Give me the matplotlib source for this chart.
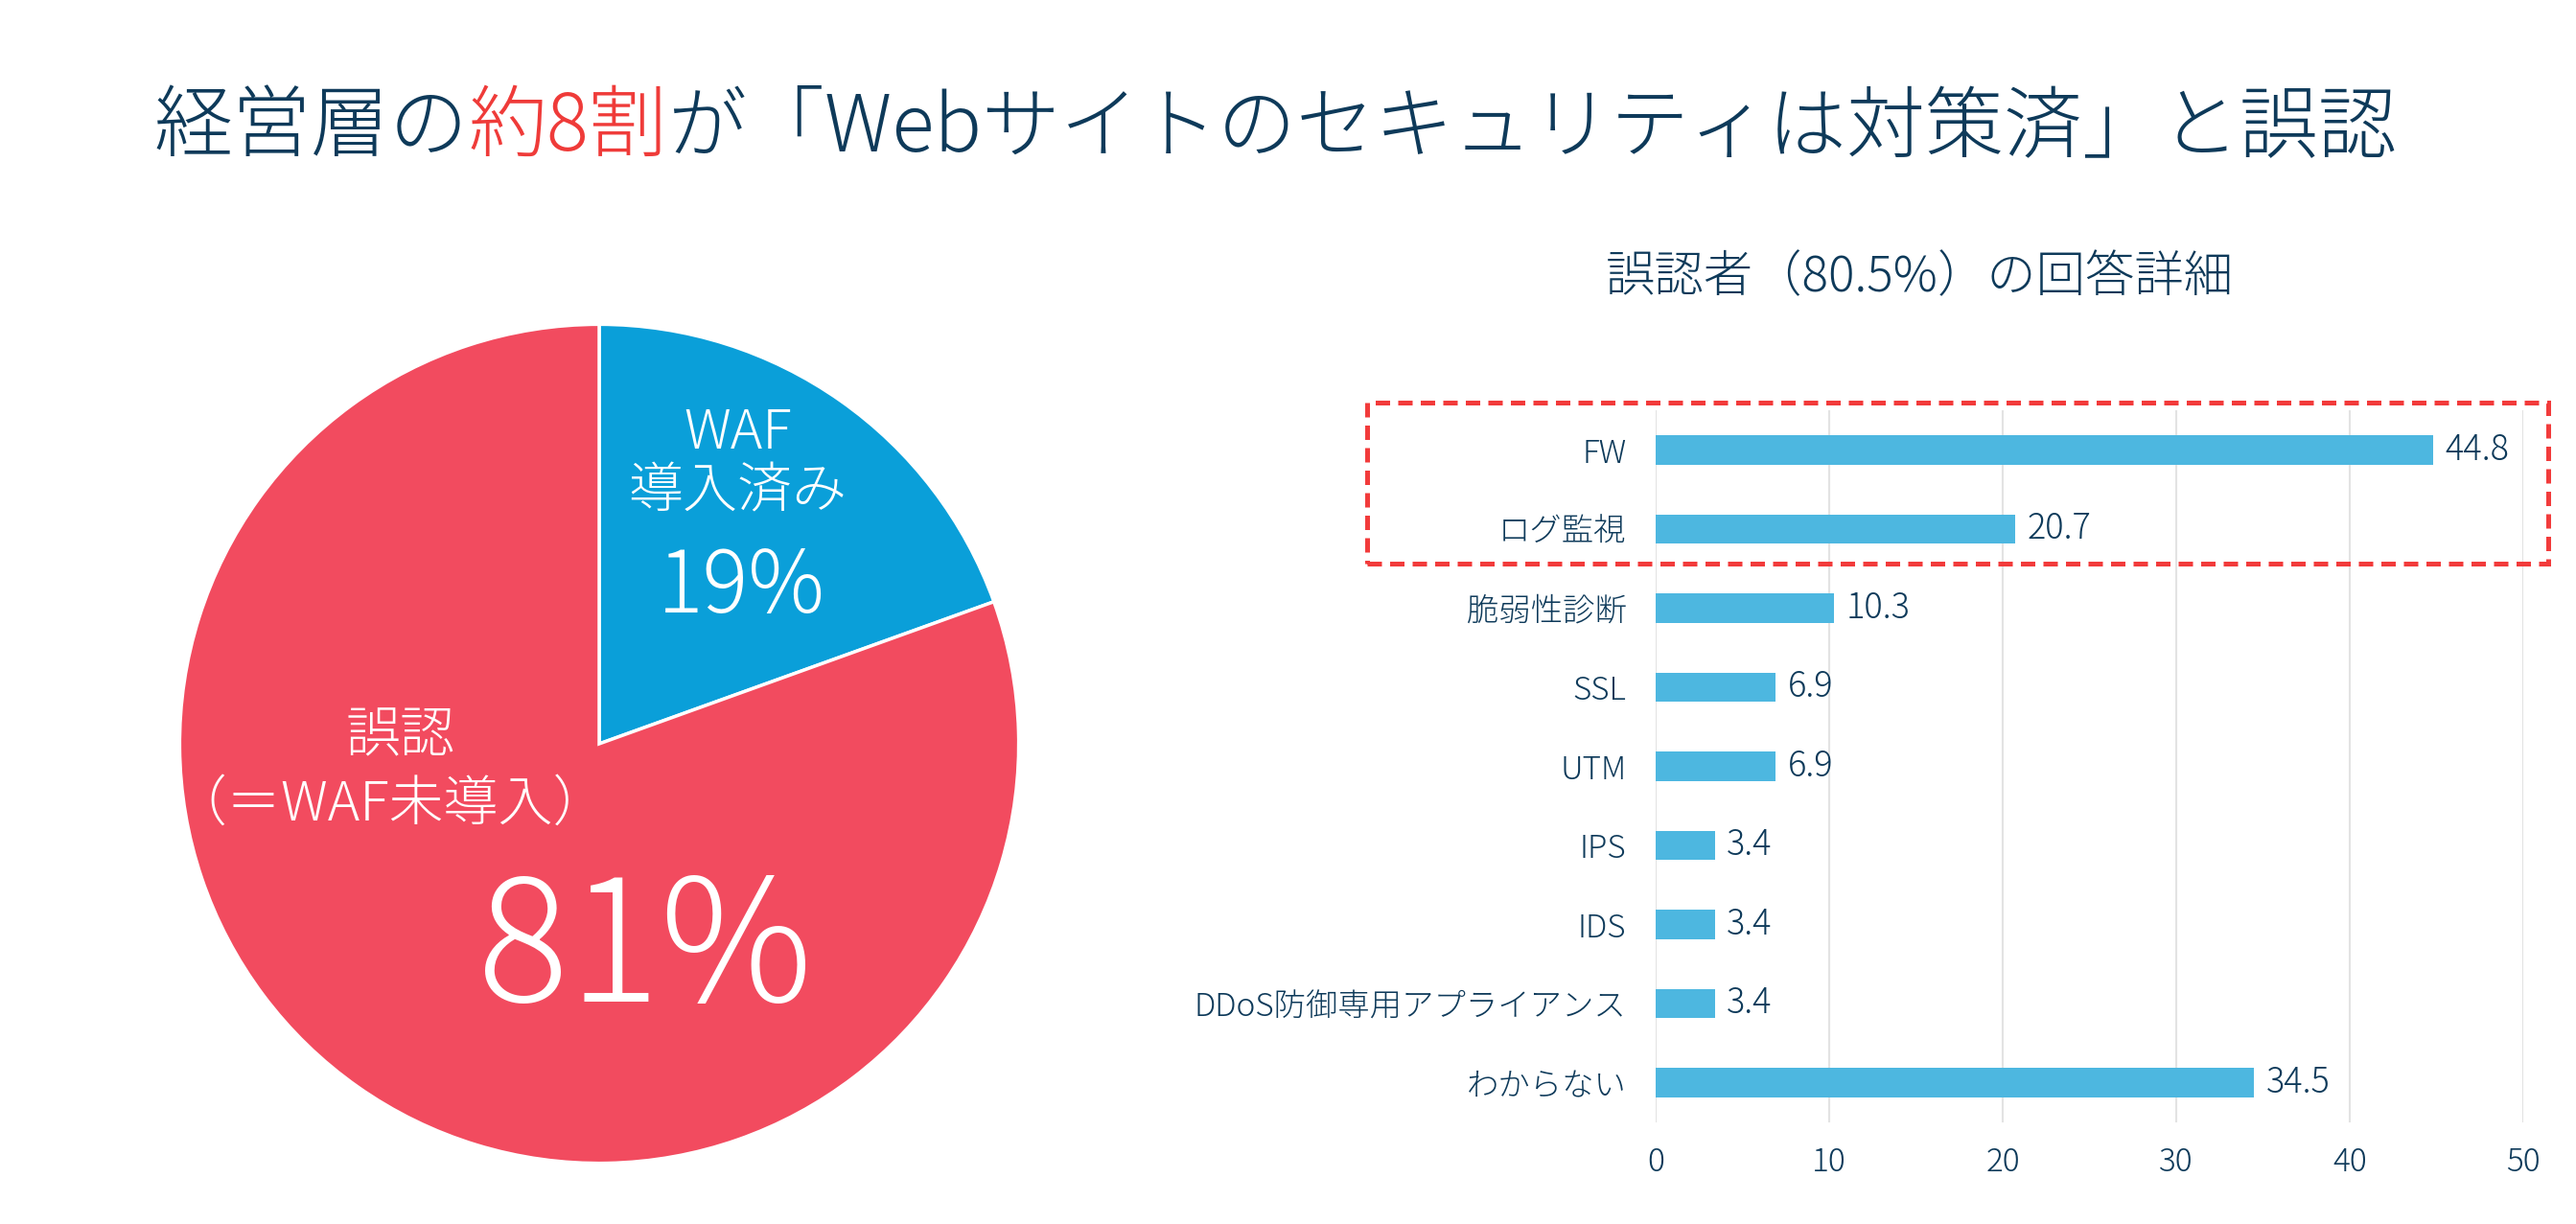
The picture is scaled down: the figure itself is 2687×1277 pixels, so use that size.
import matplotlib
matplotlib.use('Agg')
import matplotlib.pyplot as plt
from matplotlib.patches import Rectangle

plt.rcParams['font.family'] = ['Noto Sans CJK JP', 'DejaVu Sans']
plt.rcParams['font.weight'] = 'light'

# 色
NAVY = '#0E3A5A'
RED_TXT = '#EF3B39'
PIE_RED = '#F24B5F'
PIE_BLUE = '#0A9FD9'
BAR_BLUE = '#4DB7E0'

# データ
pie_share = [19.5, 80.5]
pie_colors = [PIE_BLUE, PIE_RED]

items = ['FW', 'ログ監視', '脆弱性診断', 'SSL', 'UTM', 'IPS', 'IDS',
         'DDoS防御専用アプライアンス', 'わからない']
values = [44.8, 20.7, 10.3, 6.9, 6.9, 3.4, 3.4, 3.4, 34.5]
xticks = [0, 10, 20, 30, 40, 50]

title_parts = [('経営層の', NAVY), ('約8割', RED_TXT),
               ('が「Webサイトのセキュリティは対策済」と誤認', NAVY)]

W, H = 2687, 1277
fig = plt.figure(figsize=(W / 100, H / 100), dpi=100)

# 円グラフ
ax1 = fig.add_axes([(625 - 442) / W, 1 - (776 + 442) / H, 884 / W, 884 / H])
ax1.pie(pie_share, colors=pie_colors, startangle=90, counterclock=False,
        radius=1, wedgeprops=dict(edgecolor='white', linewidth=2.5))
ax1.set_xlim(-1.01, 1.01)
ax1.set_ylim(-1.01, 1.01)
ax1.set_aspect('equal')
ax1.axis('off')

ax1.text(0.33, 0.74, 'WAF', color='white', fontsize=41, ha='center', va='center')
ax1.text(0.33, 0.60, '導入済み', color='white', fontsize=41, ha='center', va='center')
ax1.text(0.34, 0.37, '19%', color='white', fontsize=64, ha='center', va='center')
ax1.text(-0.473, 0.018, '誤認', color='white', fontsize=41, ha='center', va='center')
ax1.text(-0.50, -0.145, '（＝WAF未導入）', color='white', fontsize=41,
         ha='center', va='center')
ax1.text(0.11, -0.50, '81%', color='white', fontsize=128, ha='center', va='center')

# 棒グラフ
ax2 = fig.add_axes([1727 / W, 1 - 1171 / H, (2632 - 1727) / W, (1171 - 428) / H])
ypos = list(range(len(items)))
ax2.barh(ypos, values, height=0.37, color=BAR_BLUE, zorder=3)
for y, v in zip(ypos, values):
    ax2.text(v + 0.7, y, f'{v}', va='center', ha='left', fontsize=26, color=NAVY)
ax2.set_ylim(len(items) - 0.5, -0.5)
ax2.set_xlim(0, 50)
ax2.set_xticks(xticks)
ax2.set_yticks(ypos)
ax2.set_yticklabels(items)
ax2.tick_params(axis='both', length=0, labelsize=24, labelcolor=NAVY)
ax2.tick_params(axis='y', pad=22)
ax2.tick_params(axis='x', pad=18)
ax2.grid(axis='x', color='#E3E3E3', linewidth=1.5, zorder=0)
for s in ax2.spines.values():
    s.set_visible(False)

fig.text(2002 / W, 1 - 290 / H, '誤認者（80.5%）の回答詳細', fontsize=37,
         color=NAVY, ha='center', va='center')

# 赤い破線枠
box = Rectangle((1426 / W, 1 - 588 / H), (2658 - 1426) / W, (588 - 420) / H,
                transform=fig.transFigure, fill=False, edgecolor='#F23B3B',
                linewidth=3.6, linestyle=(0, (3, 1.7)))
fig.patches.append(box)

# タイトル（色分け）
fig.canvas.draw()
renderer = fig.canvas.get_renderer()
texts = []
widths = []
for s, c in title_parts:
    t = fig.text(0, 1 - 134 / H, s, fontsize=59, color=c, ha='left', va='center')
    texts.append(t)
    widths.append(t.get_window_extent(renderer).width)
x = 1330 - sum(widths) / 2
for t, w in zip(texts, widths):
    t.set_x(x / W)
    x += w

fig.savefig('out.png', dpi=100)
